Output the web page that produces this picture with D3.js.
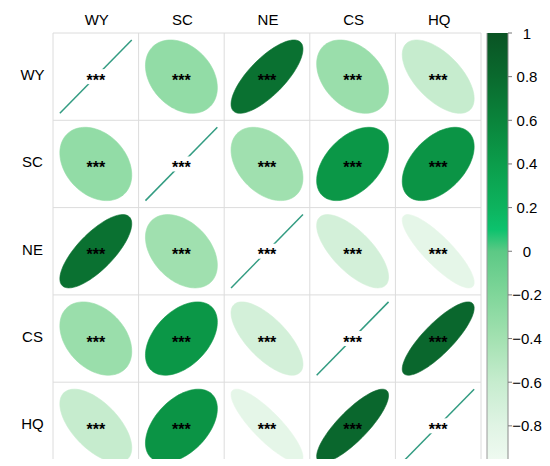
<!DOCTYPE html>
<html>
<head>
<meta charset="utf-8">
<script src="https://cdn.jsdelivr.net/npm/d3@7"></script>
<style>
  html, body { margin: 0; padding: 0; background: #ffffff; }
  svg { display: block; }
  text { font-family: "Liberation Sans", Arial, sans-serif; }
</style>
</head>
<body>
<svg id="chart" width="550" height="466"></svg>
<script>
// ---- data ----
const variables = ["WY", "SC", "NE", "CS", "HQ"];
const corrWY = [1.00, -0.30, 0.75, -0.35, -0.60];
const corrSC = [-0.30, 1.00, -0.38, 0.45, 0.47];
const corrNE = [0.75, -0.38, 1.00, -0.70, -0.85];
const corrCS = [-0.35, 0.45, -0.70, 1.00, 0.83];
const corrHQ = [-0.60, 0.47, -0.85, 0.83, 1.00];
const signif = ["***", "***", "***", "***", "***"];
const colorTicks = [1, 0.8, 0.6, 0.4, 0.2, 0, -0.2, -0.4, -0.6, -0.8];
const colorStops = [-1, -0.8, -0.6, -0.4, -0.2, 0, 0.1, 0.2, 0.4, 0.6, 0.8, 1];
const colorValues = ["#f3fbf4", "#e0f4e4", "#c6ecce", "#a3e1b1", "#80d69a", "#5cc985",
                     "#0cc26d", "#0db35e", "#0b9d4b", "#0a843b", "#0a6a2e", "#0a5424"];

const matrix = [corrWY, corrSC, corrNE, corrCS, corrHQ];

// ---- layout ----
const svg = d3.select("#chart");
const gx0 = 53, gx1 = 481, gy0 = 33, gy1 = 469.5;
const cropY = 459;

const x = d3.scaleBand().domain(variables).range([gx0, gx1]);
const y = d3.scaleBand().domain(variables).range([gy0, gy1]);
const color = d3.scaleLinear().domain(colorStops).range(colorValues).interpolate(d3.interpolateRgb);
const cw = x.bandwidth(), ch = y.bandwidth();
const s = 0.84;

const cells = [];
matrix.forEach((row, i) => row.forEach((r, j) => cells.push({ row: variables[i], col: variables[j], r, i, j })));

const plot = svg.append("g");

// grid
plot.selectAll("line.v").data(d3.range(variables.length + 1)).join("line")
  .attr("x1", d => gx0 + d * cw).attr("x2", d => gx0 + d * cw)
  .attr("y1", gy0).attr("y2", gy1)
  .attr("stroke", "#dcdcdc").attr("stroke-width", 1);
plot.selectAll("line.h").data(d3.range(variables.length + 1)).join("line")
  .attr("y1", d => gy0 + d * ch).attr("y2", d => gy0 + d * ch)
  .attr("x1", gx0).attr("x2", gx1)
  .attr("stroke", "#dcdcdc").attr("stroke-width", 1);

// ellipses
function ellipsePath(d) {
  const cx = x(d.col) + cw / 2, cy = y(d.row) + ch / 2;
  const a = Math.acos(Math.max(-1, Math.min(1, d.r))) / 2;
  const pts = d3.range(0, 100).map(t => {
    const k = t / 99 * 2 * Math.PI;
    return [cx + s * cw / 2 * Math.cos(k + a), cy - s * ch / 2 * Math.cos(k - a)];
  });
  return d3.line()(pts) + "Z";
}

const offDiag = cells.filter(d => d.i !== d.j);
const diag = cells.filter(d => d.i === d.j);

plot.selectAll("path.ell").data(offDiag).join("path")
  .attr("class", "ell")
  .attr("d", ellipsePath)
  .attr("fill", d => color(d.r))
  .attr("stroke", d => color(d.r))
  .attr("stroke-width", 0.6);

plot.selectAll("line.diag").data(diag).join("line")
  .attr("x1", d => x(d.col) + cw / 2 - s * cw / 2)
  .attr("y1", d => y(d.row) + ch / 2 + s * ch / 2)
  .attr("x2", d => x(d.col) + cw / 2 + s * cw / 2)
  .attr("y2", d => y(d.row) + ch / 2 - s * ch / 2)
  .attr("stroke", "#339c82").attr("stroke-width", 1.5);

// white box behind stars on the diagonal
plot.selectAll("rect.gap").data(diag).join("rect")
  .attr("x", d => x(d.col) + cw / 2 - 8.5)
  .attr("y", d => y(d.row) + ch / 2 - 7.5)
  .attr("width", 18).attr("height", 15)
  .attr("fill", "#ffffff");

// significance stars
plot.selectAll("text.sig").data(cells).join("text")
  .attr("x", d => x(d.col) + cw / 2)
  .attr("y", d => y(d.row) + ch / 2 + 9)
  .attr("text-anchor", "middle")
  .attr("font-size", 16)
  .attr("font-weight", "bold")
  .attr("fill", "#000000")
  .text(d => signif[d.i]);

// column labels
svg.selectAll("text.col").data(variables).join("text")
  .attr("x", d => x(d) + cw / 2 + 1)
  .attr("y", 25)
  .attr("text-anchor", "middle")
  .attr("font-size", 15)
  .attr("fill", "#000")
  .text(d => d);

// row labels
svg.selectAll("text.rowlab").data(variables).join("text")
  .attr("x", 32.5)
  .attr("y", d => y(d) + ch / 2 + 3.5)
  .attr("text-anchor", "middle")
  .attr("font-size", 15)
  .attr("fill", "#000")
  .text(d => d);

// colour bar
const bx0 = 487, bx1 = 508;
const cy = d3.scaleLinear().domain([-1, 1]).range([gy1, gy0]);
const defs = svg.append("defs");
const grad = defs.append("linearGradient").attr("id", "cbar")
  .attr("x1", 0).attr("y1", 1).attr("x2", 0).attr("y2", 0);
grad.selectAll("stop").data(colorStops).join("stop")
  .attr("offset", d => (d + 1) / 2)
  .attr("stop-color", (d, i) => colorValues[i]);
svg.append("rect")
  .attr("x", bx0).attr("y", gy0).attr("width", bx1 - bx0).attr("height", gy1 - gy0)
  .attr("fill", "url(#cbar)");
svg.append("line").attr("x1", bx0).attr("x2", bx0).attr("y1", gy0).attr("y2", gy1)
  .attr("stroke", "#9a9a9a").attr("stroke-width", 1);
svg.append("line").attr("x1", bx1).attr("x2", bx1).attr("y1", gy0).attr("y2", gy1)
  .attr("stroke", "#8a8a8a").attr("stroke-width", 1);

svg.selectAll("line.ctick").data(colorTicks).join("line")
  .attr("x1", bx1).attr("x2", bx1 + 4)
  .attr("y1", d => cy(d)).attr("y2", d => cy(d))
  .attr("stroke", "#777").attr("stroke-width", 1);
svg.selectAll("text.clab").data(colorTicks).join("text")
  .attr("x", 527)
  .attr("y", d => cy(d) + 5.5)
  .attr("text-anchor", "middle")
  .attr("font-size", 15)
  .attr("fill", "#000")
  .text(d => d < 0 ? "\u2212" + Math.abs(d) : String(d));

// crop at bottom like the reference
svg.append("rect").attr("x", 0).attr("y", cropY).attr("width", 550).attr("height", 466 - cropY)
  .attr("fill", "#ffffff");
</script>
</body>
</html>
